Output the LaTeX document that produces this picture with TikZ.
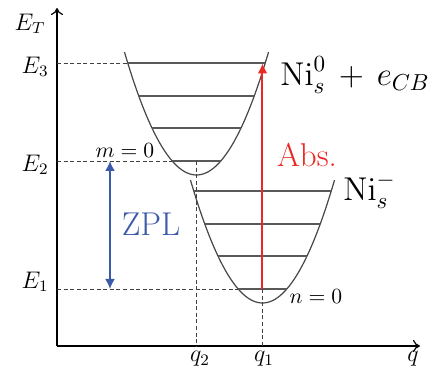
\RequirePackage{fix-cm}
\documentclass[tikz,border=0pt]{standalone}
\usetikzlibrary{arrows.meta}
\definecolor{absred}{RGB}{235,40,35}
\definecolor{zplblue}{RGB}{60,90,170}
\definecolor{curvegray}{RGB}{70,70,70}
\begin{document}
\begin{tikzpicture}[x=0.5pt,y=-0.5pt,
  axis/.style={-{To[length=3.5pt,width=6pt]}, line width=0.6pt},
  well/.style={curvegray, line width=0.6pt},
  lvl/.style={black!65, line width=0.9pt},
  guide/.style={line width=0.45pt, dash pattern=on 2pt off 1.3pt, black!75},
  lbl/.style={inner sep=0pt, font=\fontsize{12}{14}\selectfont},
  small/.style={inner sep=0pt, font=\fontsize{10.8}{12}\selectfont},
  big/.style={inner sep=0pt, font=\fontsize{16.5}{19}\selectfont},
  absarrow/.style={absred, line width=1pt, -{Latex[length=5pt,width=5pt]}},
  zplarrow/.style={zplblue, line width=0.9pt, {Latex[length=5pt,width=5pt]}-{Latex[length=5pt,width=5pt]}}]
\useasboundingbox (0,0) rectangle (430,375);
% axes
\coordinate (O) at (57,346);
\coordinate (ytop) at (57,8);
\coordinate (xend) at (420,346);
\draw[axis] (O) -- (ytop);
\draw[axis] (O) -- (xend);
% upper well
\draw[well] plot[domain=-72:72, samples=61, smooth] ({196.5+\x},{175-0.0237*\x*\x});
\foreach \h in {14,47,79,112}{
  \pgfmathsetmacro\w{sqrt(\h/0.0237)}
  \draw[lvl] ({196.5-\w},{175-\h}) -- ({196.5+\w},{175-\h});
}
% lower well
\draw[well] plot[domain=-72:72, samples=61, smooth] ({262.5+\x},{303-0.0237*\x*\x});
\foreach \h in {14,47,79,112}{
  \pgfmathsetmacro\w{sqrt(\h/0.0237)}
  \draw[lvl] ({262.5-\w},{303-\h}) -- ({262.5+\w},{303-\h});
}
% reference points
\coordinate (U3L) at (128.3,63);
\coordinate (U0L) at (172.2,161);
\coordinate (U0C) at (196.5,161);
\coordinate (L0L) at (238.2,289);
\coordinate (L0C) at (262.5,289);
\coordinate (absTop) at (262.5,63.5);
\coordinate (yE3) at (57,63);
\coordinate (yE2) at (57,161);
\coordinate (yE1) at (57,289);
\coordinate (xq2) at (196.5,346);
\coordinate (xq1) at (262.5,346);
\coordinate (zTop) at (110,161);
\coordinate (zBot) at (110,289);
% guides
\draw[guide] (yE3) -- (U3L);
\draw[guide] (yE2) -- (U0L);
\draw[guide] (yE1) -- (L0L);
\draw[guide] (U0C) -- (xq2);
\draw[guide] (L0C) -- (xq1);
% arrows
\draw[absarrow] (L0C) -- (absTop);
\draw[zplarrow] (zTop) -- (zBot);
% labels
\node[lbl] (ET) at (30,24) {$E_T$};
\node[lbl, anchor=east] (E3) at (49,67) {$E_3$};
\node[lbl, anchor=east] (E2) at (49,165) {$E_2$};
\node[lbl, anchor=east] (E1) at (49,282) {$E_1$};
\node[lbl] (q2) at (200,359) {$q_2$};
\node[lbl] (q1) at (264,359) {$q_1$};
\node[lbl] (q) at (413,359) {$q$};
\node[small] (m0) at (125,151) {$m=0$};
\node[small] (n0) at (316,297) {$n=0$};
\node[big] (Ni0) at (355,75) {$\mathrm{Ni}_s^0\,+\,e_{CB}$};
\node[big, anchor=base west] (Nim) at (343,200) {$\mathrm{Ni}_s^-$};
\node[big, text=absred] (abs) at (307,155) {Abs.};
\node[big, text=zplblue] (zpl) at (151,224) {ZPL};
\end{tikzpicture}
\end{document}
